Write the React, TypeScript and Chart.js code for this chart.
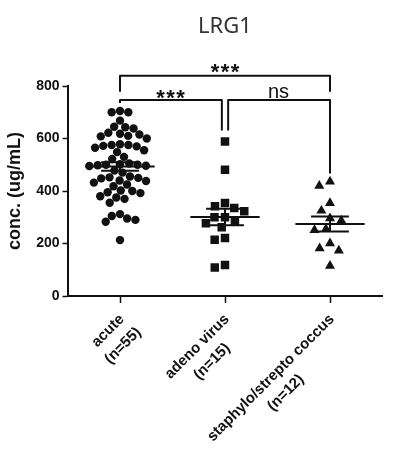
import React, { useEffect, useRef } from 'react';
import { Chart, registerables } from 'chart.js';

Chart.register(...registerables);

// ---------- data ----------
const categories: string[][] = [
  ['acute', '(n=55)'],
  ['adeno virus', '(n=15)'],
  ['staphylo/strepto coccus', '(n=12)'],
];

const acute: number[] = [
  705, 700, 700, 668, 645, 643, 638, 622, 618, 615, 610, 608, 600, 578, 575,
  575, 572, 570, 565, 555, 548, 530, 522, 505, 502, 500, 500, 498, 496, 495,
  478, 470, 455, 452, 450, 448, 440, 438, 432, 425, 418, 402, 400, 395, 392,
  380, 375, 370, 355, 312, 305, 295, 290, 283, 213,
];

const adenoVirus: number[] = [
  589, 481, 354, 335, 323, 342, 300, 287, 277, 300, 262, 221, 214, 109, 118,
];

const staphStrepto: number[] = [
  420, 436, 354, 325, 287, 296, 251, 255, 182, 173, 201, 115,
];

const yTicks: number[] = [0, 200, 400, 600, 800];

// comparisons: [group a, group b, label]
const comparisonTop: [number, number, string] = [0, 2, '***'];
const comparisonLeft: [number, number, string] = [0, 1, '***'];
const comparisonRight: [number, number, string] = [1, 2, 'ns'];

const groups = [acute, adenoVirus, staphStrepto];
const pointStyles = ['circle', 'rect', 'triangle'];
const pointRadii = [4.2, 6, 5.8];
const swarmSpacing = [8.4, 10.5, 11.5];

const INK = '#111111';
const FONT = '"Liberation Sans", Arial, Helvetica, sans-serif';

function meanSem(vals: number[]) {
  const n = vals.length;
  const m = vals.reduce((a, b) => a + b, 0) / n;
  const sd = Math.sqrt(vals.reduce((a, b) => a + (b - m) * (b - m), 0) / (n - 1));
  return { mean: m, sem: sd / Math.sqrt(n) };
}

function swarm(py: number[], D: number): number[] {
  const idx = py.map((_, i) => i).sort((a, b) => py[a] - py[b]);
  const placed: { x: number; y: number }[] = [];
  const out = new Array(py.length).fill(0);
  for (const i of idx) {
    const y = py[i];
    const near = placed.filter((p) => Math.abs(p.y - y) < D);
    const cands = [0];
    near.forEach((p) => {
      const dx = Math.sqrt(D * D - (p.y - y) * (p.y - y));
      cands.push(p.x - dx, p.x + dx);
    });
    cands.sort((a, b) => Math.abs(a) - Math.abs(b));
    let best = 0;
    for (const c of cands) {
      if (near.every((p) => (p.x - c) * (p.x - c) + (p.y - y) * (p.y - y) >= D * D - 0.01)) {
        best = c;
        break;
      }
    }
    placed.push({ x: best, y });
    out[i] = best;
  }
  return out;
}

const overlayPlugin = {
  id: 'overlay',
  afterDatasetsDraw(chart: any) {
    const ctx = chart.ctx as CanvasRenderingContext2D;
    const xs = chart.scales.x;
    const ys = chart.scales.y;
    const X = (v: number) => xs.getPixelForValue(v);
    const Y = (v: number) => ys.getPixelForValue(v);
    ctx.save();
    ctx.strokeStyle = INK;
    ctx.fillStyle = INK;
    ctx.lineWidth = 2;
    ctx.lineCap = 'butt';

    // mean +/- SEM
    groups.forEach((vals, gi) => {
      const { mean, sem } = meanSem(vals);
      const c = gi + 1;
      ctx.beginPath();
      ctx.moveTo(X(c - 0.33), Y(mean));
      ctx.lineTo(X(c + 0.33), Y(mean));
      ctx.moveTo(X(c - 0.18), Y(mean + sem));
      ctx.lineTo(X(c + 0.18), Y(mean + sem));
      ctx.moveTo(X(c - 0.18), Y(mean - sem));
      ctx.lineTo(X(c + 0.18), Y(mean - sem));
      ctx.moveTo(X(c), Y(mean - sem));
      ctx.lineTo(X(c), Y(mean + sem));
      ctx.stroke();
    });

    // brackets
    const topLevel = 839;
    const innerLevel = 747;
    const legEnd = (gi: number) => Y(Math.max(...groups[gi])) - 8;
    ctx.lineJoin = 'round';
    ctx.beginPath();
    ctx.moveTo(X(comparisonTop[0] + 1), Y(topLevel) + 16);
    ctx.lineTo(X(comparisonTop[0] + 1), Y(topLevel));
    ctx.lineTo(X(comparisonTop[1] + 1), Y(topLevel));
    ctx.lineTo(X(comparisonTop[1] + 1), Y(topLevel) + 16);
    ctx.stroke();

    ctx.beginPath();
    ctx.moveTo(X(comparisonLeft[0] + 1), legEnd(comparisonLeft[0]));
    ctx.lineTo(X(comparisonLeft[0] + 1), Y(innerLevel));
    ctx.lineTo(X(comparisonLeft[1] + 1 - 0.03), Y(innerLevel));
    ctx.lineTo(X(comparisonLeft[1] + 1 - 0.03), legEnd(comparisonLeft[1]) - 3);
    ctx.stroke();

    ctx.beginPath();
    ctx.moveTo(X(comparisonRight[0] + 1 + 0.03), legEnd(comparisonRight[0]) - 3);
    ctx.lineTo(X(comparisonRight[0] + 1 + 0.03), Y(innerLevel));
    ctx.lineTo(X(comparisonRight[1] + 1), Y(innerLevel));
    ctx.lineTo(X(comparisonRight[1] + 1), legEnd(comparisonRight[1]));
    ctx.stroke();

    // bracket labels
    const drawStars = (cx: number, cy: number) => {
      ctx.font = `bold 22px ${FONT}`;
      ctx.textAlign = 'center';
      ctx.textBaseline = 'alphabetic';
      [-10, 0, 10].forEach((d) => ctx.fillText('*', cx + d, cy + 14));
    };
    const drawLabel = (cmp: [number, number, string], cx: number, cy: number) => {
      if (cmp[2] === '***') drawStars(cx, cy);
      else {
        ctx.font = `20px ${FONT}`;
        ctx.textAlign = 'center';
        ctx.textBaseline = 'alphabetic';
        ctx.fillText(cmp[2], cx, cy + 6);
      }
    };
    drawLabel(comparisonTop, X((comparisonTop[0] + comparisonTop[1]) / 2 + 1), Y(topLevel) - 11);
    drawLabel(comparisonLeft, X((comparisonLeft[0] + comparisonLeft[1]) / 2 + 1) - 2, Y(innerLevel) - 9);
    drawLabel(comparisonRight, X((comparisonRight[0] + comparisonRight[1]) / 2 + 1) + 1, Y(innerLevel) - 8);

    // rotated category labels
    ctx.font = `bold 15px ${FONT}`;
    ctx.textAlign = 'center';
    ctx.textBaseline = 'middle';
    const lh = 21;
    categories.forEach((lines, gi) => {
      const tx = X(gi + 1) + 2;
      const ty = xs.top + 21;
      const w0 = ctx.measureText(lines[0]).width;
      ctx.save();
      ctx.translate(tx, ty);
      ctx.rotate(-Math.PI / 4);
      lines.forEach((ln, k) => ctx.fillText(ln, -w0 / 2, k * lh));
      ctx.restore();
    });

    ctx.restore();
  },
};

export default function App() {
  const ref = useRef<HTMLCanvasElement | null>(null);

  useEffect(() => {
    document.body.style.margin = '0';
    const canvas = ref.current;
    if (!canvas) return;

    const chart = new Chart(canvas, {
      type: 'scatter',
      data: {
        datasets: groups.map((vals, gi) => ({
          label: categories[gi].join(' '),
          data: vals.map((v) => ({ x: gi + 1, y: v })),
          pointStyle: pointStyles[gi] as any,
          pointRadius: pointRadii[gi],
          pointHoverRadius: pointRadii[gi],
          pointBackgroundColor: INK,
          pointBorderColor: INK,
          pointBorderWidth: 0,
          showLine: false,
        })),
      },
      options: {
        responsive: false,
        animation: false,
        events: [],
        layout: { padding: { top: 0, left: 0, right: 12.5, bottom: 0 } },
        plugins: {
          legend: { display: false },
          tooltip: { enabled: false },
          title: {
            display: true,
            text: 'LRG1',
            fullSize: false,
            color: '#333333',
            font: { family: '"Noto Sans", sans-serif', size: 22, weight: 'normal', lineHeight: 1.2 },
            padding: { top: 14, bottom: 45.6 },
          },
        },
        scales: {
          x: {
            type: 'linear',
            min: 0.5,
            max: 3.5,
            afterBuildTicks: (scale: any) => {
              scale.ticks = categories.map((_, i) => ({ value: i + 1 }));
            },
            afterFit: (scale: any) => {
              scale.height = 164;
            },
            ticks: { display: false },
            grid: {
              drawOnChartArea: false,
              drawTicks: true,
              tickLength: 7,
              tickColor: INK,
              tickWidth: 1.5,
            },
            border: { display: true, color: INK, width: 2 },
          },
          y: {
            type: 'linear',
            min: yTicks[0],
            max: yTicks[yTicks.length - 1],
            afterBuildTicks: (scale: any) => {
              scale.ticks = yTicks.map((v) => ({ value: v }));
            },
            afterFit: (scale: any) => {
              scale.width = 67.5;
            },
            ticks: {
              color: INK,
              padding: 3,
              font: { family: FONT, size: 14, weight: 'bold' },
            },
            grid: {
              drawOnChartArea: false,
              drawTicks: true,
              tickLength: 5,
              tickColor: INK,
              tickWidth: 1.5,
            },
            border: { display: true, color: INK, width: 2 },
            title: {
              display: true,
              text: 'conc. (ug/mL)',
              color: INK,
              font: { family: FONT, size: 18, weight: 'bold', lineHeight: 1.2 },
              padding: { top: 4, bottom: 0 },
            },
          },
        },
      },
      plugins: [overlayPlugin],
    });

    // beeswarm offsets computed from the library's own scales
    const xs: any = chart.scales.x;
    const ys: any = chart.scales.y;
    const pxPerX = xs.getPixelForValue(1) - xs.getPixelForValue(0);
    groups.forEach((vals, gi) => {
      const offs = swarm(vals.map((v) => ys.getPixelForValue(v)), swarmSpacing[gi]);
      (chart.data.datasets[gi] as any).data = vals.map((v, k) => ({ x: gi + 1 + offs[k] / pxPerX, y: v }));
    });
    chart.update();

    return () => chart.destroy();
  }, []);

  return (
    <div style={{ width: 395, height: 460 }}>
      <canvas ref={ref} width={395} height={460} style={{ display: 'block', width: 395, height: 460 }} />
    </div>
  );
}
